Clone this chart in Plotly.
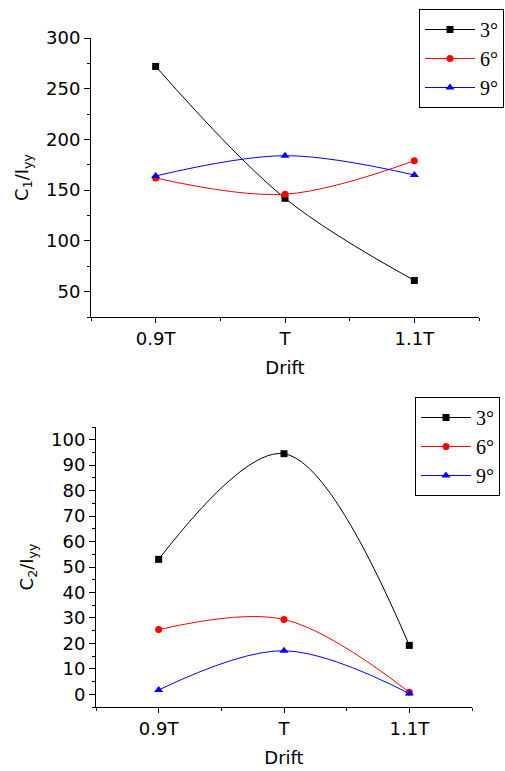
import plotly.graph_objects as go

categories = ["0.9T", "T", "1.1T"]
series_names = ["3°", "6°", "9°"]

c1_3deg = [272, 142, 61]
c1_6deg = [162, 146, 179]
c1_9deg = [164, 184, 165]

c2_3deg = [53, 94.5, 19.2]
c2_6deg = [25.4, 29.4, 0.8]
c2_9deg = [1.7, 17.1, 0.3]

colors = ["#000000", "#ff0000", "#0000ff"]
symbols = ["square", "circle", "triangle-up"]

xpos = list(range(len(categories)))

W, H = 505, 771
fig = go.Figure()

top = [c1_3deg, c1_6deg, c1_9deg]
bot = [c2_3deg, c2_6deg, c2_9deg]
for i, (name, vals) in enumerate(zip(series_names, top)):
    fig.add_trace(go.Scatter(x=xpos, y=vals, name=name, mode="lines+markers",
                             line=dict(color=colors[i], width=1, shape="spline", smoothing=1.0),
                             marker=dict(symbol=symbols[i], size=7 if i < 2 else 8, color=colors[i]),
                             xaxis="x", yaxis="y", legend="legend"))
for i, (name, vals) in enumerate(zip(series_names, bot)):
    fig.add_trace(go.Scatter(x=xpos, y=vals, name=name, mode="lines+markers",
                             line=dict(color=colors[i], width=1, shape="spline", smoothing=1.0),
                             marker=dict(symbol=symbols[i], size=7 if i < 2 else 8, color=colors[i]),
                             xaxis="x2", yaxis="y2", legend="legend2"))

axfont = dict(family="DejaVu Sans", size=18, color="#000")
common_x = dict(tickmode="array", tickvals=xpos, ticktext=categories, range=[-0.5, 2.5],
                showline=True, linecolor="#000", linewidth=1, ticks="outside", ticklen=5,
                tickcolor="#000", showgrid=False, zeroline=False, tickfont=axfont,
                minor=dict(tickvals=[-0.5, 0.5, 1.5, 2.5], ticks="outside", ticklen=3, tickcolor="#000"),
                title=dict(text="Drift", font=axfont, standoff=13))
common_y = dict(showline=True, linecolor="#000", linewidth=1, ticks="outside", ticklen=6,
                tickcolor="#000", showgrid=False, zeroline=False, tickfont=axfont)

legfont = dict(family="Liberation Serif", size=20, color="#000")

fig.update_layout(
    width=W, height=H, margin=dict(l=0, r=0, t=0, b=0, autoexpand=False),
    paper_bgcolor="white", plot_bgcolor="white",
    showlegend=True,
    xaxis=dict(domain=[91 / W, 479 / W], anchor="y", **common_x),
    yaxis=dict(domain=[1 - 317 / H, 1 - 38 / H], anchor="x", range=[25, 300],
               tickmode="linear", tick0=50, dtick=50,
               minor=dict(tick0=25, dtick=25, ticks="outside", ticklen=3, tickcolor="#000"),
               title=dict(text="C<sub>1</sub>/I<sub>yy</sub>", font=axfont, standoff=12),
               **common_y),
    xaxis2=dict(domain=[96 / W, 472 / W], anchor="y2", **common_x),
    yaxis2=dict(domain=[1 - 707 / H, 1 - 427 / H], anchor="x2", range=[-5, 105],
                tickmode="linear", tick0=0, dtick=10,
                minor=dict(tick0=0, dtick=5, ticks="outside", ticklen=3, tickcolor="#000"),
                title=dict(text="C<sub>2</sub>/I<sub>yy</sub>", font=axfont, standoff=12),
                **common_y),
    legend=dict(x=504 / W, xanchor="right", y=1 - 9 / H, yanchor="top",
                bordercolor="#000", borderwidth=1, bgcolor="white",
                font=legfont, tracegroupgap=0, itemwidth=50),
    legend2=dict(x=500 / W, xanchor="right", y=1 - 397 / H, yanchor="top",
                 bordercolor="#000", borderwidth=1, bgcolor="white",
                 font=legfont, tracegroupgap=0, itemwidth=50),
)

fig.write_html("out.html")
